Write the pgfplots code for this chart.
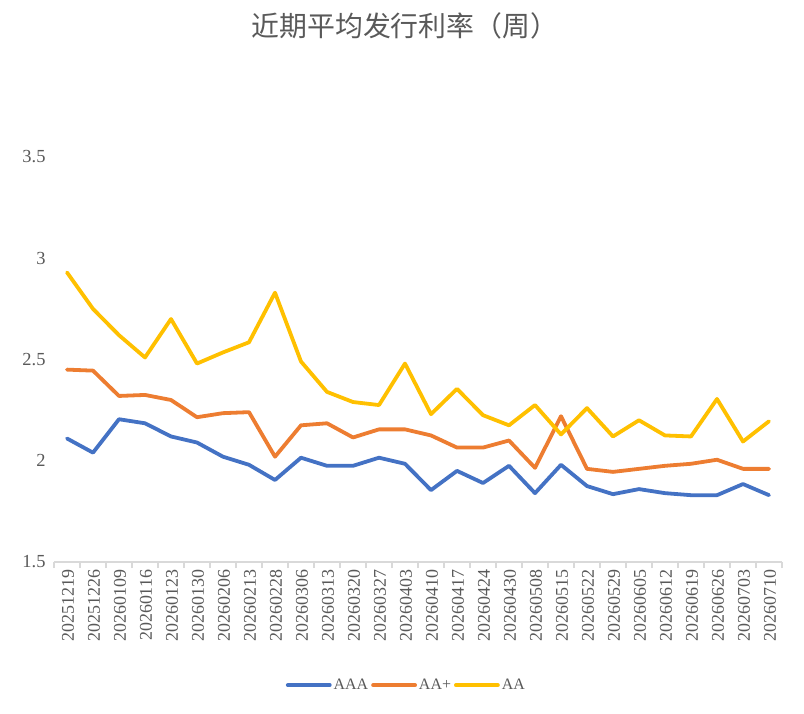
\documentclass[border=0pt]{standalone}
\usepackage{fontspec}
\setmainfont{Liberation Serif}
\newfontfamily\cjk{Noto Sans CJK SC}
\usepackage{pgfplots}
\usepackage{pgfplotstable}
\pgfplotsset{compat=1.18}

\definecolor{cAAA}{HTML}{4472C4}
\definecolor{cAAp}{HTML}{ED7D31}
\definecolor{cAA}{HTML}{FFC000}
\definecolor{tickgray}{HTML}{595959}
\definecolor{axisgray}{HTML}{D9D9D9}

% weekly average issuance rates
\pgfplotstableread{
x  AAA    AAp    AA
0  2.110  2.450  2.930
1  2.040  2.445  2.750
2  2.205  2.320  2.620
3  2.185  2.325  2.510
4  2.120  2.300  2.700
5  2.090  2.215  2.480
6  2.020  2.235  2.535
7  1.980  2.240  2.585
8  1.905  2.020  2.830
9  2.015  2.175  2.490
10 1.975  2.185  2.340
11 1.975  2.115  2.290
12 2.015  2.155  2.275
13 1.985  2.155  2.480
14 1.855  2.125  2.230
15 1.950  2.065  2.355
16 1.890  2.065  2.225
17 1.975  2.100  2.175
18 1.840  1.965  2.275
19 1.980  2.220  2.130
20 1.875  1.960  2.260
21 1.835  1.945  2.120
22 1.860  1.960  2.200
23 1.840  1.975  2.125
24 1.830  1.985  2.120
25 1.830  2.005  2.305
26 1.885  1.960  2.095
27 1.830  1.960  2.195
}\rates

\begin{document}
\begin{tikzpicture}
\useasboundingbox (-54bp,-152bp) rectangle (750bp,562bp);
\begin{axis}[
    at={(0,0)}, anchor=south west,
    scale only axis,
    width=728bp, height=405bp,
    xmin=-0.5, xmax=27.5,
    ymin=1.5, ymax=3.5,
    axis lines*=left,
    x axis line style={draw=axisgray, line width=1.5bp},
    y axis line style={draw=none},
    xtick={0,...,27},
    xticklabels={20251219,20251226,20260109,20260116,20260123,20260130,20260206,20260213,20260228,20260306,20260313,20260320,20260327,20260403,20260410,20260417,20260424,20260430,20260508,20260515,20260522,20260529,20260605,20260612,20260619,20260626,20260703,20260710},
    major x tick style={draw=none},
    minor xtick={-0.5,0.5,...,27.5},
    minor x tick style={draw=axisgray, line width=1.5bp},
    minor tick length=6bp,
    xtick align=outside,
    ytick={1.5,2,2.5,3,3.5},
    ytick style={draw=none},
    /pgf/number format/assume math mode=true,
    x tick label style={rotate=90, anchor=east, font=\fontsize{18}{18}\selectfont, text=tickgray, yshift=-1bp},
    y tick label style={font=\fontsize{18.5}{18.5}\selectfont, text=tickgray, xshift=-5bp},
    title={\cjk 近期平均发行利率（周）},
    title style={at={(0.482,1.309)}, anchor=center, font=\fontsize{28}{28}\selectfont, text=tickgray},
    legend columns=3,
    legend style={at={(0.484,-0.304)}, anchor=center, draw=none, fill=none,
        font=\fontsize{16}{16}\selectfont, text=tickgray,
        /tikz/every even column/.append style={column sep=1bp}},
    legend image code/.code={\draw[#1, line cap=round] (0bp,0bp) -- (42bp,0bp);},
    every axis plot/.append style={line width=3.8bp, line join=round, line cap=round, mark=none},
]
\addplot[cAAA] table[x=x, y=AAA] {\rates};
\addlegendentry{AAA}
\addplot[cAAp] table[x=x, y=AAp] {\rates};
\addlegendentry{AA+}
\addplot[cAA] table[x=x, y=AA] {\rates};
\addlegendentry{AA}
\end{axis}
\end{tikzpicture}
\end{document}
